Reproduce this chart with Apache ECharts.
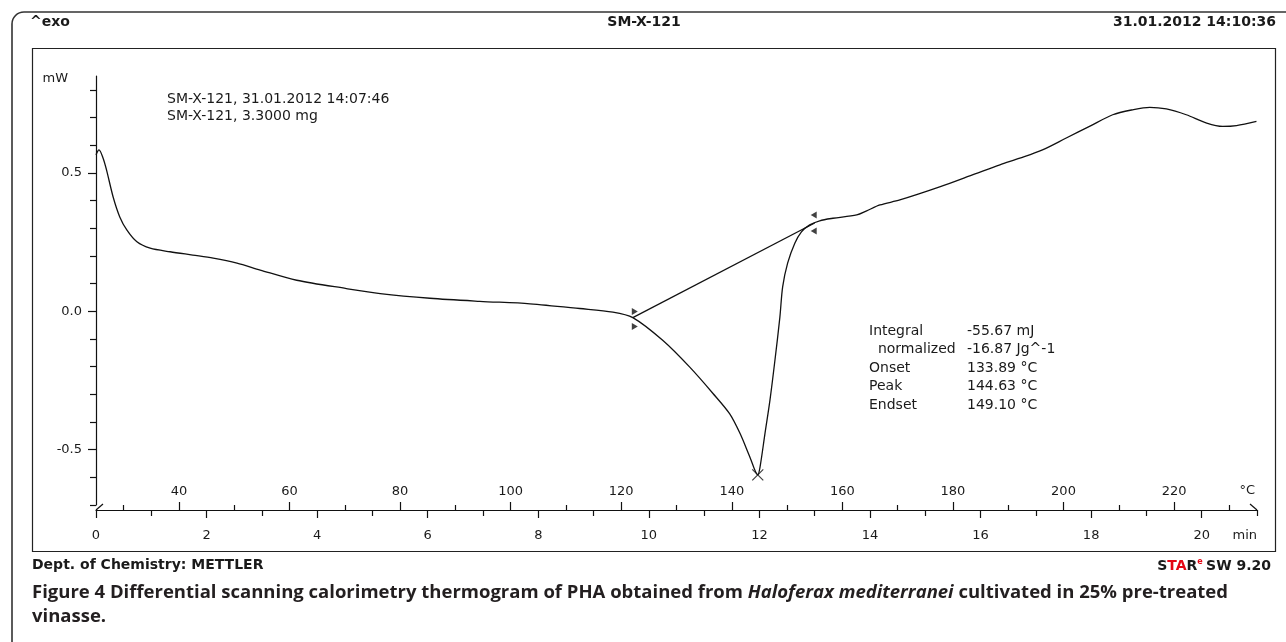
<!DOCTYPE html>
<html>
<head>
<meta charset="utf-8">
<script src="https://cdn.jsdelivr.net/npm/echarts@6/dist/echarts.min.js"></script>
<style>
html,body{margin:0;padding:0;background:#fff;}
#chart{width:1286px;height:642px;}
</style>
</head>
<body>
<div id="chart"></div>
<script>
// ---- data ----
const timeMin = [0, 0.054, 0.127, 0.19, 0.31, 0.43, 0.56, 0.74, 0.98, 1.34, 1.75, 2.12, 2.55, 2.97, 3.63, 4.53, 5.14, 6.04, 6.94, 7.85, 8.75, 9.35, 9.71, 10.25, 10.74, 11.16, 11.46, 11.65, 11.83, 11.97, 12.01, 12.10, 12.19, 12.28, 12.37, 12.42, 12.51, 12.64, 12.76, 12.91, 13.09, 13.33, 13.76, 13.94, 14.18, 14.54, 15.26, 15.90, 16.35, 16.71, 17.12, 17.55, 17.97, 18.39, 18.75, 19.06, 19.36, 19.72, 20.09, 20.38, 20.63, 20.99];
const heatFlow = [0.565, 0.583, 0.554, 0.511, 0.413, 0.341, 0.293, 0.251, 0.228, 0.215, 0.203, 0.192, 0.174, 0.149, 0.112, 0.082, 0.064, 0.047, 0.036, 0.027, 0.010, -0.003, -0.023, -0.105, -0.202, -0.297, -0.370, -0.442, -0.528, -0.591, -0.564, -0.442, -0.322, -0.178, -0.021, 0.088, 0.174, 0.246, 0.287, 0.312, 0.327, 0.336, 0.348, 0.363, 0.384, 0.402, 0.449, 0.496, 0.529, 0.553, 0.583, 0.626, 0.668, 0.710, 0.728, 0.737, 0.731, 0.710, 0.680, 0.668, 0.671, 0.686];
const integrationLimits = [[9.71, -0.023], [13.0, 0.319]];
const peakPoint = [11.97, -0.591];

const timeMajorTicks = [0, 2, 4, 6, 8, 10, 12, 14, 16, 18, 20];
const timeMinorTicks = [1, 3, 5, 7, 9, 11, 13, 15, 17, 19, 21];
const tempMajorTicks = [40, 60, 80, 100, 120, 140, 160, 180, 200, 220];
const tempMinorTicks = [30, 50, 70, 90, 110, 130, 150, 170, 190, 210, 230];
const yMajorTicks = [-0.5, 0, 0.5];
const yMinorTicks = [-0.7, -0.6, -0.4, -0.3, -0.2, -0.1, 0.1, 0.2, 0.3, 0.4, 0.6, 0.7, 0.8];

const headerTexts = ['^exo', 'SM-X-121', '31.01.2012 14:10:36'];
const sampleInfo = ['SM-X-121, 31.01.2012 14:07:46', 'SM-X-121, 3.3000 mg'];
const resultLabels = ['Integral', '  normalized', 'Onset', 'Peak', 'Endset'];
const resultValues = ['-55.67 mJ', '-16.87 Jg^-1', '133.89 °C', '144.63 °C', '149.10 °C'];
const footerLeft = 'Dept. of Chemistry: METTLER';
const captionLine1a = 'Figure 4';
const captionLine1b = ' Differential scanning calorimetry thermogram of PHA obtained from ';
const captionItalic = 'Haloferax mediterranei';
const captionLine1c = ' cultivated in 25% pre-treated';
const captionLine2 = 'vinasse.';

// ---- chart ----
const FONT = 'DejaVu Sans';
const INK = '#111';
const chart = echarts.init(document.getElementById('chart'), null, {renderer: 'canvas'});

const baseX = {
  type: 'value', min: 0, max: 21, position: 'bottom', offset: 5,
  splitLine: {show: false}, axisLine: {show: false, onZero: false}, axisLabel: {show: false}, axisTick: {show: false}
};
const baseY = {
  type: 'value', min: -0.7, max: 0.85, position: 'left',
  splitLine: {show: false}, axisLine: {show: false, onZero: false}, axisLabel: {show: false}, axisTick: {show: false}
};

const option = {
  animation: false,
  backgroundColor: '#fff',
  grid: {left: 96, right: 29, top: 76, bottom: 137, containLabel: false},
  xAxis: [
    Object.assign({}, baseX, {
      axisLine: {show: true, onZero: false, lineStyle: {color: INK, width: 1.2}},
      axisTick: {show: true, length: 8, customValues: timeMajorTicks, lineStyle: {color: INK, width: 1.2}},
      axisLabel: {show: true, customValues: timeMajorTicks, margin: 19, fontFamily: FONT, fontSize: 13, color: '#1a1a1a'}
    }),
    Object.assign({}, baseX, {
      axisTick: {show: true, length: 6, customValues: timeMinorTicks, lineStyle: {color: INK, width: 1.2}}
    }),
    Object.assign({}, baseX, {
      min: 25, max: 235,
      axisTick: {show: true, inside: true, length: 8, customValues: tempMajorTicks, lineStyle: {color: INK, width: 1.2}},
      axisLabel: {show: true, inside: true, customValues: tempMajorTicks, margin: 12, fontFamily: FONT, fontSize: 13, color: '#1a1a1a'}
    }),
    Object.assign({}, baseX, {
      min: 25, max: 235,
      axisTick: {show: true, inside: true, length: 5, customValues: tempMinorTicks, lineStyle: {color: INK, width: 1.2}}
    })
  ],
  yAxis: [
    Object.assign({}, baseY, {
      axisLine: {show: true, onZero: false, lineStyle: {color: INK, width: 1.2}},
      axisTick: {show: true, length: 8, customValues: yMajorTicks, lineStyle: {color: INK, width: 1.2}},
      axisLabel: {show: true, customValues: yMajorTicks, margin: 14, fontFamily: FONT, fontSize: 13, color: '#1a1a1a',
        formatter: v => Number(v).toFixed(1)}
    }),
    Object.assign({}, baseY, {
      axisTick: {show: true, length: 6, customValues: yMinorTicks, lineStyle: {color: INK, width: 1.2}}
    })
  ],
  series: [
    {
      type: 'line', xAxisIndex: 0, yAxisIndex: 0, silent: true,
      data: timeMin.map((t, i) => [t, heatFlow[i]]),
      symbol: 'none', smooth: 0.3,
      lineStyle: {color: INK, width: 1.3}
    },
    {
      type: 'line', xAxisIndex: 0, yAxisIndex: 0, silent: true,
      data: integrationLimits, symbol: 'none',
      lineStyle: {color: INK, width: 1.3}
    },
    {
      type: 'scatter', xAxisIndex: 0, yAxisIndex: 0, silent: true,
      data: [integrationLimits[0]], symbol: 'triangle', symbolSize: [7, 6], symbolRotate: -90,
      symbolOffset: [2, -6], itemStyle: {color: INK}
    },
    {
      type: 'scatter', xAxisIndex: 0, yAxisIndex: 0, silent: true,
      data: [integrationLimits[0]], symbol: 'triangle', symbolSize: [7, 6], symbolRotate: -90,
      symbolOffset: [2, 9], itemStyle: {color: INK}
    },
    {
      type: 'scatter', xAxisIndex: 0, yAxisIndex: 0, silent: true,
      data: [integrationLimits[1]], symbol: 'triangle', symbolSize: [7, 6], symbolRotate: 90,
      symbolOffset: [-1, -8], itemStyle: {color: INK}
    },
    {
      type: 'scatter', xAxisIndex: 0, yAxisIndex: 0, silent: true,
      data: [integrationLimits[1]], symbol: 'triangle', symbolSize: [7, 6], symbolRotate: 90,
      symbolOffset: [-1, 8], itemStyle: {color: INK}
    },
    {
      type: 'scatter', xAxisIndex: 0, yAxisIndex: 0, silent: true,
      data: [peakPoint], symbol: 'path://M0,0L10,10M10,0L0,10', symbolSize: 11,
      itemStyle: {color: 'rgba(0,0,0,0)', borderColor: INK, borderWidth: 1.2}
    }
  ],
  graphic: {
    elements: [
      {type: 'rect', silent: true, shape: {x: 12, y: 12, width: 1300, height: 700, r: 12},
        style: {fill: 'none', stroke: '#333', lineWidth: 1.6}},
      {type: 'rect', silent: true, shape: {x: 32.5, y: 48.5, width: 1243, height: 503},
        style: {fill: 'none', stroke: '#222', lineWidth: 1.2}},
      // axis corner decorations
      {type: 'line', silent: true, shape: {x1: 96, y1: 510, x2: 103, y2: 504}, style: {stroke: INK, lineWidth: 1.2}},
      {type: 'line', silent: true, shape: {x1: 1250, y1: 504, x2: 1257, y2: 510}, style: {stroke: INK, lineWidth: 1.2}},
      // header
      {type: 'text', silent: true, left: 30, top: 15, style: {text: headerTexts[0], font: 'bold 14px "DejaVu Sans"', fill: '#1a1a1a'}},
      {type: 'text', silent: true, x: 644, y: 22, style: {text: headerTexts[1], font: 'bold 14px "DejaVu Sans"', fill: '#1a1a1a', align: 'center', verticalAlign: 'middle'}},
      {type: 'text', silent: true, x: 1276, y: 22, style: {text: headerTexts[2], font: 'bold 14px "DejaVu Sans"', fill: '#1a1a1a', align: 'right', verticalAlign: 'middle'}},
      // unit labels
      {type: 'text', silent: true, x: 68, y: 79, style: {text: 'mW', font: '13px "DejaVu Sans"', fill: '#1a1a1a', align: 'right', verticalAlign: 'middle'}},
      {type: 'text', silent: true, x: 1255, y: 491, style: {text: '°C', font: '13px "DejaVu Sans"', fill: '#1a1a1a', align: 'right', verticalAlign: 'middle'}},
      {type: 'text', silent: true, x: 1257, y: 536, style: {text: 'min', font: '13px "DejaVu Sans"', fill: '#1a1a1a', align: 'right', verticalAlign: 'middle'}},
      // sample info
      {type: 'text', silent: true, x: 167, y: 99, style: {text: sampleInfo[0], font: '14px "DejaVu Sans"', fill: '#1a1a1a', verticalAlign: 'middle'}},
      {type: 'text', silent: true, x: 167, y: 116, style: {text: sampleInfo[1], font: '14px "DejaVu Sans"', fill: '#1a1a1a', verticalAlign: 'middle'}},
      // results block
      ...resultLabels.map((s, i) => ({type: 'text', silent: true, x: 869, y: 331 + i * 18.5,
        style: {text: s, font: '14px "DejaVu Sans"', fill: '#1a1a1a', verticalAlign: 'middle', whiteSpace: 'pre'}})),
      ...resultValues.map((s, i) => ({type: 'text', silent: true, x: 967, y: 331 + i * 18.5,
        style: {text: s, font: '14px "DejaVu Sans"', fill: '#1a1a1a', verticalAlign: 'middle'}})),
      // footer
      {type: 'text', silent: true, x: 32, y: 565, style: {text: footerLeft, font: 'bold 14px "DejaVu Sans"', fill: '#1a1a1a', verticalAlign: 'middle'}},
      {type: 'text', silent: true, x: 1271, y: 566, style: {
        text: '{k|S}{r|TA}{k|R}{e|e} {k|SW 9.20}', align: 'right', verticalAlign: 'middle',
        rich: {
          k: {font: 'bold 14px "DejaVu Sans"', fill: '#1a1a1a'},
          r: {font: 'bold 14px "DejaVu Sans"', fill: '#e30613'},
          e: {font: 'bold 8px "DejaVu Sans"', fill: '#e30613', verticalAlign: 'top', padding: [0, 0, 8, 0]}
        }}},
      // caption
      {type: 'text', silent: true, x: 32, y: 593, style: {
        text: '{b|' + captionLine1a + '}{n|' + captionLine1b + '}{i|' + captionItalic + '}{n|' + captionLine1c + '}',
        verticalAlign: 'middle',
        rich: {
          b: {font: 'bold 18.5px "Open Sans"', fill: '#231f20'},
          n: {font: 'bold 18.5px "Open Sans"', fill: '#231f20'},
          i: {font: 'italic bold 18.5px "Open Sans"', fill: '#231f20'}
        }}},
      {type: 'text', silent: true, x: 32, y: 617, style: {text: captionLine2, font: 'bold 18.5px "Open Sans"', fill: '#231f20', verticalAlign: 'middle'}}
    ]
  }
};
chart.setOption(option);
</script>
</body>
</html>
